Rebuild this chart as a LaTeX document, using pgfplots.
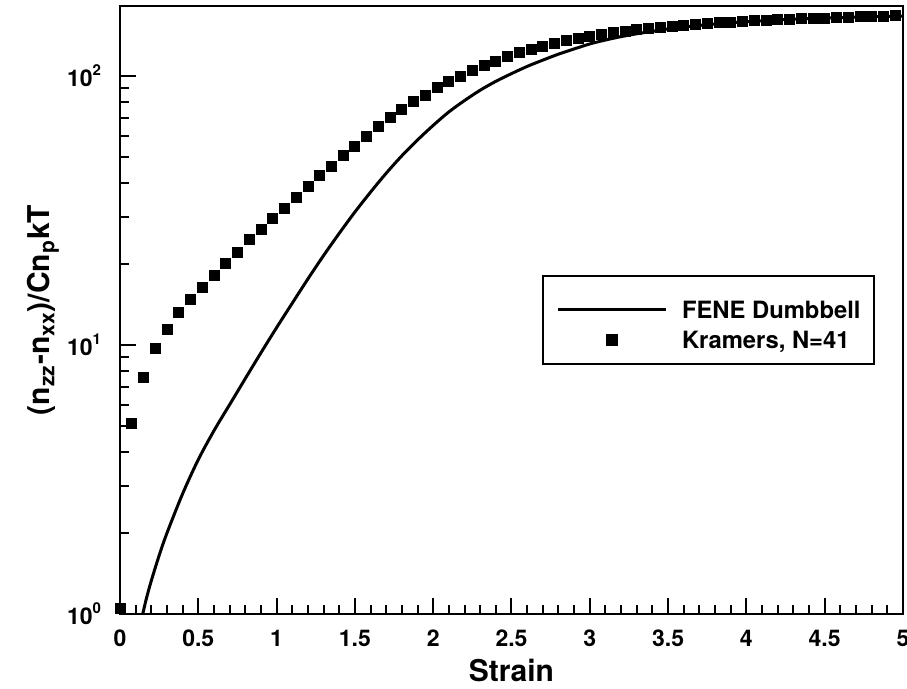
\documentclass[border=0pt]{standalone}
\usepackage{fontspec}
\setmainfont{TeX Gyre Heros}
\usepackage{pgfplots}
\pgfplotsset{compat=1.18}
\newcommand{\sps}[1]{\raisebox{0.48em}{\fontsize{7.5}{8}\selectfont\bfseries #1}}
\pgfplotsset{
  lineleg/.style={legend image code/.code={\draw[##1] (0pt,-4.75pt) -- (54pt,-4.75pt);}},
  markleg/.style={legend image code/.code={\draw[mark repeat=2, mark phase=2, ##1] plot coordinates {(0pt,2.25pt) (27pt,2.25pt) (54pt,2.25pt)};}},
}

\pgfplotstableread{
x y
0.145 1.0
0.17 1.15
0.2 1.33
0.25 1.65
0.3 2.0
0.4 2.8
0.5 3.75
0.6 4.8
0.7 6.0
0.8 7.5
0.9 9.35
1.0 11.6
1.1 14.3
1.2 17.6
1.3 21.5
1.4 26.0
1.5 31.2
1.6 37
1.7 43.5
1.8 50.5
1.9 57.8
2.0 65.5
2.1 73.5
2.2 81
2.3 88.5
2.4 95.5
2.5 102
2.6 108.5
2.7 114.5
2.8 120.5
2.9 126
3.0 131.5
3.1 136
3.2 140
3.3 143.5
3.4 146.5
3.5 149.5
3.6 152
3.8 156
4.0 159
4.25 162
4.5 164
4.75 165.8
5.0 167
}\fene

\pgfplotstableread{
x y
0 1.05
0.075 5.1
0.15 7.6
0.225 9.7
0.3 11.4
0.375 13.2
0.45 14.8
0.525 16.4
0.6 18.2
0.675 20.1
0.75 22.1
0.825 24.6
0.9 26.9
0.975 29.6
1.05 32.2
1.125 35.3
1.2 38.8
1.275 42.6
1.35 46.3
1.425 50.6
1.5 54.9
1.575 59.8
1.65 64.8
1.725 70.0
1.8 75.4
1.875 80.2
1.95 85.0
2.025 90.8
2.1 95.3
2.175 100
2.25 104.8
2.325 109.3
2.4 113.7
2.475 118
2.55 122
2.625 125.6
2.7 129
2.775 132.2
2.85 135.2
2.925 138
3.0 140.5
3.075 142.8
3.15 144.9
3.225 146.8
3.3 148.6
3.375 150.2
3.45 151.7
3.525 153.1
3.6 154.4
3.675 155.6
3.75 156.7
3.825 157.7
3.9 158.6
3.975 159.5
4.05 160.3
4.125 161.1
4.2 161.8
4.275 162.5
4.35 163.1
4.425 163.7
4.5 164.3
4.575 164.8
4.65 165.3
4.725 165.8
4.8 166.3
4.875 166.8
4.95 167.2
}\kramers

\begin{document}
\begin{tikzpicture}
\begin{semilogyaxis}[
  scale only axis, width=391.5pt, height=304pt,
  at={(0,0)}, anchor=south west,
  xmin=0, xmax=5, ymin=1, ymax=182,
  axis line style={line width=1.3pt},
  tick pos=left, tick align=inside,
  major tick length=8pt, minor tick length=4.5pt,
  every tick/.style={black, line width=1pt},
  xtick={0,0.5,1,1.5,2,2.5,3,3.5,4,4.5,5},
  xticklabels={0,0.5,1,1.5,2,2.5,3,3.5,4,4.5,5},
  minor x tick num=4,
  ytick={1,10,100},
  yticklabels={10\sps{0},10\sps{1},10\sps{2}},
  tick label style={font=\bfseries\fontsize{11.5}{13}\selectfont},
  xticklabel style={yshift=-4.5pt},
  yticklabel style={xshift=-6pt},
  xlabel={Strain},
  ylabel={(n\textsubscript{zz}-n\textsubscript{xx})/Cn\textsubscript{p}kT},
  label style={font=\bfseries\fontsize{15}{18}\selectfont},
  xlabel style={at={(axis description cs:0.5,-0.1118)}, anchor=base},
  ylabel style={at={(axis description cs:-0.0894,0.5)}, anchor=base},
  legend cell align=left,
  legend style={at={(axis description cs:0.539,0.5576)}, anchor=north west,
    draw=black, line width=1pt, fill=white,
    inner xsep=6.5pt, inner ysep=0pt, row sep=0pt, column sep=7.5pt,
    font=\bfseries\fontsize{11.9}{14}\selectfont,
    nodes={inner sep=0pt, text height=, text depth=}},
]
\addplot[black, line width=1.5pt, smooth, lineleg]
  table[x=x, y=y] {\fene};
\addlegendentry{\rule[-3.2pt]{0pt}{24.5pt}FENE Dumbbell}
\addplot[black, only marks, mark=square*, mark size=2.5pt, markleg]
  table[x=x, y=y] {\kramers};
\addlegendentry{\rule[-7.7pt]{0pt}{19.5pt}Kramers, N=41}
\end{semilogyaxis}
\pgfresetboundingbox
\useasboundingbox (-60pt,-37.5pt) rectangle (393.5pt,307pt);
\end{tikzpicture}
\end{document}
